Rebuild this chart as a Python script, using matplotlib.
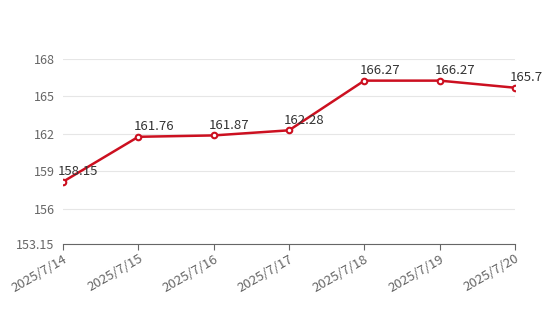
import matplotlib
matplotlib.use("Agg")
import matplotlib.pyplot as plt

dates = ["2025/7/14", "2025/7/15", "2025/7/16", "2025/7/17", "2025/7/18", "2025/7/19", "2025/7/20"]
prices = [158.15, 161.76, 161.87, 162.28, 166.27, 166.27, 165.7]
yticks = [153.15, 156, 159, 162, 165, 168]

plt.rcParams['font.family'] = ['Noto Sans CJK SC', 'DejaVu Sans']

fig = plt.figure(figsize=(5.6, 3.11), dpi=100)
ax = fig.add_axes([0.1125, 0.2154, 0.8071, 0.5946])

x = list(range(len(dates)))
ax.plot(x, prices, color="#cc1020", lw=1.8, marker="o", ms=4,
        mfc="white", mec="#cc1020", mew=1.5, zorder=3)
for xi, v in zip(x, prices):
    ax.annotate(f"{v:g}", (xi, v), xytext=(-3.5, 2.5), textcoords="offset points",
                ha="left", va="bottom", fontsize=9.5, color="#333333")

ax.set_xlim(0, len(dates) - 1)
ax.set_ylim(153.15, 168)
ax.set_yticks(yticks)
ax.set_yticklabels([f"{t:g}" for t in yticks])
ax.set_xticks(x)
ax.set_xticklabels(dates, rotation=30, ha="right", rotation_mode="anchor")

for s in ["top", "right", "left"]:
    ax.spines[s].set_visible(False)
ax.spines["bottom"].set_color("#666666")
ax.grid(axis="y", color="#e6e6e6", lw=0.8)
ax.set_axisbelow(True)
ax.tick_params(axis="y", length=0, pad=6, labelsize=9, labelcolor="#666666")
ax.tick_params(axis="x", length=4, color="#666666", pad=2, labelsize=9.5, labelcolor="#666666")

fig.savefig("out.png", dpi=100)
